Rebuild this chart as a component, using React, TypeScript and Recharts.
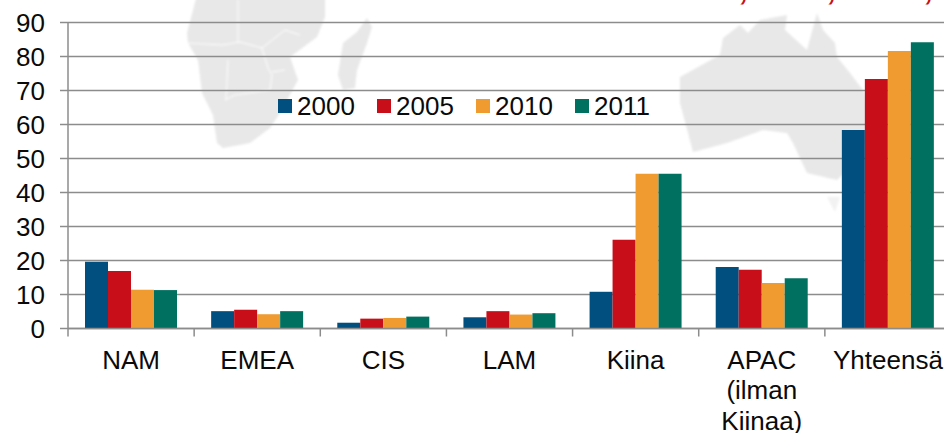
import React from 'react';
import { BarChart, Bar, XAxis, YAxis, CartesianGrid, Legend } from 'recharts';

const categories = ['NAM', 'EMEA', 'CIS', 'LAM', 'Kiina', 'APAC (ilman Kiinaa)', 'Yhteensä'];
const values2000 = [19.6, 5.1, 1.7, 3.3, 10.8, 18.1, 58.4];
const values2005 = [16.9, 5.5, 2.9, 5.1, 26.1, 17.3, 73.4];
const values2010 = [11.4, 4.2, 3.1, 4.1, 45.5, 13.4, 81.6];
const values2011 = [11.3, 5.1, 3.5, 4.5, 45.5, 14.8, 84.2];
const yTicks = [0, 10, 20, 30, 40, 50, 60, 70, 80, 90];

const wrappedLabels: Record<string, string[]> = {
  'APAC (ilman Kiinaa)': ['APAC', '(ilman', 'Kiinaa)'],
};

const data = categories.map((name, i) => ({
  name,
  '2000': values2000[i],
  '2005': values2005[i],
  '2010': values2010[i],
  '2011': values2011[i],
}));

const FONT = '"Liberation Sans", Arial, sans-serif';
const AXIS_COLOR = '#8c8c8c';
const TEXT_COLOR = '#0a0a0a';
const BAND = 883 / categories.length;

// faded world map behind the plot
const africa = 'M197,-5 L187,33 L188,43 L198,60 L202,93 L213,115 L217,143 L223,148 L250,143 L270,128 L280,113 L298,80 L290,57 L317,37 L325,17 L325,-5 Z';
const madagascar = 'M367,18 L372,27 L367,43 L357,70 L355,88 L343,90 L338,75 L343,43 L357,32 Z';
const australia = 'M680,77 L720,55 L723,38 L740,25 L748,33 L760,20 L787,15 L785,30 L807,50 L817,13 L823,30 L835,43 L837,57 L850,73 L865,93 L870,130 L860,157 L837,180 L807,173 L793,143 L787,133 L763,130 L727,143 L693,152 L688,133 L680,103 Z';
const tasmania = 'M827,197 L840,197 L835,212 Z';
const borders = [
  'M188,43 L222,45 L240,42 L262,48 L285,30 L300,35',
  'M238,0 L238,42',
  'M262,48 L268,68 L272,75 L270,90 L235,95 L225,100',
  'M228,60 L226,100',
  'M272,72 L285,70',
];

function MapBackdrop() {
  return (
    <svg width={944} height={433} style={{ position: 'absolute', left: 0, top: 0 }}>
      <defs>
        <pattern id="mapDots" width={3} height={3} patternUnits="userSpaceOnUse">
          <rect width={3} height={3} fill="#e6e6e6" />
          <circle cx={1.5} cy={1.5} r={0.8} fill="#f0f0f0" />
        </pattern>
        <filter id="soft">
          <feGaussianBlur stdDeviation={1} />
        </filter>
      </defs>
      <g filter="url(#soft)">
        <path d={africa} fill="url(#mapDots)" />
        <path d={madagascar} fill="url(#mapDots)" />
        <path d={australia} fill="url(#mapDots)" />
        <path d={tasmania} fill="#f2f2f2" />
        {borders.map((d) => (
          <path key={d} d={d} fill="none" stroke="#fff" strokeWidth={1} />
        ))}
      </g>
      {/* bottom of the cropped headline */}
      {[745, 833, 930].map((x) => (
        <text key={x} x={x} y={0} fontFamily={FONT} fontSize={30} fontWeight="bold" fontStyle="italic" fill="#c80f19" textAnchor="middle">
          ,
        </text>
      ))}
    </svg>
  );
}

function CategoryTick({ x, y, payload }: any) {
  const lines = wrappedLabels[payload.value] || [payload.value];
  const edge = x - BAND / 2;
  return (
    <g>
      <line x1={edge} x2={edge} y1={y} y2={y + 8} stroke={AXIS_COLOR} strokeWidth={1.5} />
      <text x={x} textAnchor="middle" fontFamily={FONT} fontSize={26} fill={TEXT_COLOR}>
        {lines.map((line: string, i: number) => (
          <tspan key={line} x={x} y={y + 40 + i * 30.5}>
            {line}
          </tspan>
        ))}
      </text>
    </g>
  );
}

function YearLegend({ payload }: any) {
  return (
    <div style={{ display: 'flex', fontFamily: FONT, fontSize: 26, lineHeight: '30px', color: TEXT_COLOR }}>
      {(payload || []).map((entry: any) => (
        <div key={entry.value} style={{ display: 'flex', alignItems: 'center', width: 99 }}>
          <span style={{ width: 14, height: 14, marginRight: 5, background: entry.color }} />
          <span>{entry.value}</span>
        </div>
      ))}
    </div>
  );
}

export default function App() {
  return (
    <div style={{ position: 'relative', width: 944, height: 433, overflow: 'hidden', background: '#fff' }}>
      <style>{'html, body { margin: 0; padding: 0; overflow: hidden; }'}</style>
      <MapBackdrop />
      <div style={{ position: 'absolute', left: 0, top: 0 }}>
        <BarChart
          width={960}
          height={433}
          data={data}
          margin={{ top: 22.5, right: 9, bottom: 0, left: 8 }}
          barGap={0}
          barCategoryGap={17}
        >
          <CartesianGrid horizontal vertical={false} stroke={AXIS_COLOR} strokeWidth={1.5} />
          <XAxis
            dataKey="name"
            height={104.5}
            interval={0}
            tickLine={false}
            tickSize={0}
            tickMargin={0}
            axisLine={{ stroke: AXIS_COLOR, strokeWidth: 1.5 }}
            tick={<CategoryTick />}
          />
          <YAxis
            width={60}
            domain={[0, 90]}
            ticks={yTicks}
            interval={0}
            tickSize={8}
            tickMargin={15}
            tickLine={{ stroke: AXIS_COLOR, strokeWidth: 1.5 }}
            axisLine={{ stroke: AXIS_COLOR, strokeWidth: 1.5 }}
            tick={{ fontFamily: FONT, fontSize: 26, fill: TEXT_COLOR }}
          />
          <Legend
            layout="horizontal"
            align="center"
            verticalAlign="middle"
            content={<YearLegend />}
            wrapperStyle={{ left: 278, top: 91, width: 400, bottom: 'auto' }}
          />
          <Bar dataKey="2000" fill="#014f7e" isAnimationActive={false} />
          <Bar dataKey="2005" fill="#c80f19" isAnimationActive={false} />
          <Bar dataKey="2010" fill="#ef9b30" isAnimationActive={false} />
          <Bar dataKey="2011" fill="#007160" isAnimationActive={false} />
        </BarChart>
      </div>
    </div>
  );
}
